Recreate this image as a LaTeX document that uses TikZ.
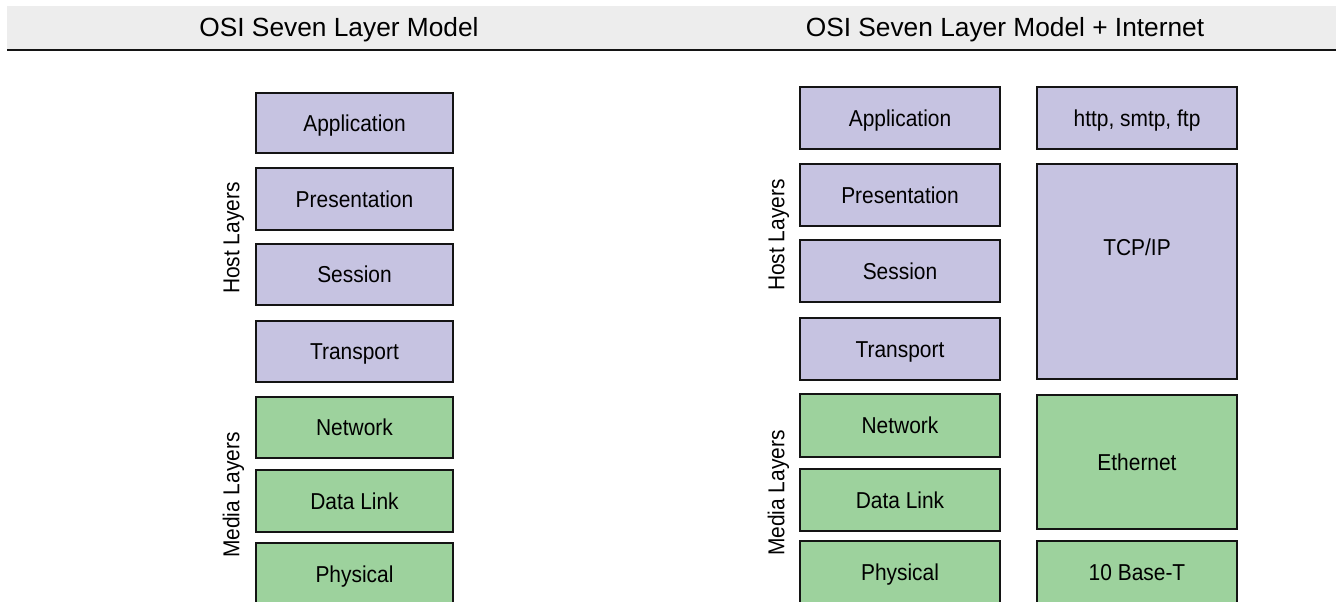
\documentclass[tikz,border=0pt]{standalone}
\usepackage{fontspec}
\setmainfont{Liberation Sans}
\newfontfamily\boxfont[FakeStretch=0.91]{Liberation Sans}
\definecolor{hostfill}{RGB}{198,195,225}
\definecolor{mediafill}{RGB}{157,210,157}
\definecolor{headfill}{RGB}{237,237,237}
\definecolor{edge}{RGB}{20,20,20}
\tikzset{
  layer/.style={draw=edge, line width=2pt, inner sep=0pt, text height=16.5pt, text depth=0pt, font=\boxfont\fontsize{23}{27}\selectfont, text=black},
  hostbox/.style={layer, fill=hostfill},
  mediabox/.style={layer, fill=mediafill},
  plainlabel/.style={inner sep=0pt, text height=16.5pt, text depth=0pt, font=\boxfont\fontsize{23}{27}\selectfont},
  sidelabel/.style={plainlabel, rotate=90},
  titletext/.style={inner sep=0pt, anchor=base, font=\fontsize{26.3}{30}\selectfont}
}
\begin{document}
\begin{tikzpicture}[x=1pt, y=-1pt]
\useasboundingbox (0,0) rectangle (1336,602);
\clip (0,0) rectangle (1336,602);
% header
\fill[headfill] (7,6) rectangle (1336,49);
\draw[edge, line width=2.7pt] (7,50) -- (1336,50);
\node[titletext] (t1) at (339,36.5) {OSI Seven Layer Model};
\node[titletext] (t2) at (1005,36.5) {OSI Seven Layer Model + Internet};
% left model
\node[hostbox, minimum width=197pt, minimum height=60pt] (la) at (354.5,123) {Application};
\node[hostbox, minimum width=197pt, minimum height=62pt] (lp) at (354.5,199) {Presentation};
\node[hostbox, minimum width=197pt, minimum height=61pt] (ls) at (354.5,274.5) {Session};
\node[hostbox, minimum width=197pt, minimum height=61pt] (lt) at (354.5,351.5) {Transport};
\node[mediabox, minimum width=197pt, minimum height=61pt] (ln) at (354.5,427.5) {Network};
\node[mediabox, minimum width=197pt, minimum height=62pt] (ld) at (354.5,501) {Data Link};
\node[mediabox, minimum width=197pt, minimum height=63pt] (lph) at (354.5,574.5) {Physical};
\node[sidelabel] (lhost) at (231,238) {Host Layers};
\node[sidelabel] (lmedia) at (231,495) {Media Layers};
% right model
\node[hostbox, minimum width=200pt, minimum height=62pt] (ra) at (900,118) {Application};
\node[hostbox, minimum width=200pt, minimum height=62pt] (rp) at (900,195) {Presentation};
\node[hostbox, minimum width=200pt, minimum height=62pt] (rs) at (900,271) {Session};
\node[hostbox, minimum width=200pt, minimum height=62pt] (rt) at (900,349) {Transport};
\node[mediabox, minimum width=200pt, minimum height=63pt] (rn) at (900,425.5) {Network};
\node[mediabox, minimum width=200pt, minimum height=62pt] (rd) at (900,500) {Data Link};
\node[mediabox, minimum width=200pt, minimum height=63pt] (rph) at (900,572.5) {Physical};
\node[sidelabel] (rhost) at (776,235) {Host Layers};
\node[sidelabel] (rmedia) at (776,493) {Media Layers};
% internet column
\node[hostbox, minimum width=200pt, minimum height=62pt] (http) at (1137,118) {http, smtp, ftp};
\node[hostbox, minimum width=200pt, minimum height=215pt] (tcp) at (1137,271.5) {};
\node[plainlabel] (tcplabel) at (1137,247.5) {TCP/IP};
\node[mediabox, minimum width=200pt, minimum height=134pt] (eth) at (1137,462) {Ethernet};
\node[mediabox, minimum width=200pt, minimum height=63pt] (base) at (1137,572.5) {10 Base-T};
\end{tikzpicture}
\end{document}
